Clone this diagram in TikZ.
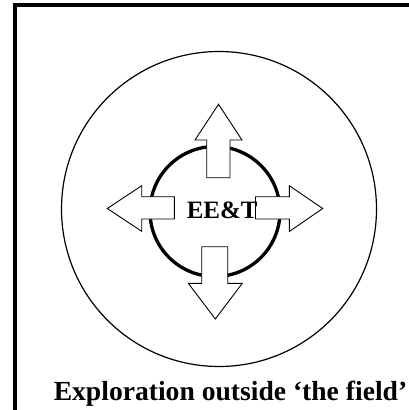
\documentclass[tikz,border=0pt]{standalone}
\usepackage{fontspec}
\setmainfont{Liberation Serif}
\begin{document}
\begin{tikzpicture}[x=1pt,y=-1pt,
  ring/.style={circle,draw,line width=1.2pt,minimum size=315pt,inner sep=0pt},
  core/.style={circle,draw,line width=3.3pt,minimum size=130pt,inner sep=0pt},
  bigarrow/.style={draw,fill=white,line width=0.9pt,line join=miter},
  lbl/.style={inner sep=0pt}]
\useasboundingbox (0,0) rectangle (409,410);
\begin{scope}
\clip (0,0) rectangle (409,410);
\draw[line width=4pt,line join=miter] (15.3,420) -- (15.3,5.3) -- (420,5.3);
\end{scope}
\node[ring] (outer) at (219,209) {};
\node[core] (inner) at (215,211.5) {};
% up arrow
\draw[bigarrow] (206.7,177.7) -- (206.7,140) -- (195,140) -- (218.5,104.3) -- (242,140) -- (230,140) -- (230,177.7) -- cycle;
% down arrow
\draw[bigarrow] (201.7,246.7) -- (201.7,283.3) -- (188.3,283.3) -- (215.3,319) -- (242.3,283.3) -- (227.7,283.3) -- (227.7,246.7) -- cycle;
% left arrow
\draw[bigarrow] (174.3,196.7) -- (141.7,196.7) -- (141.7,185.7) -- (107.3,208.5) -- (141.7,231.3) -- (141.7,219) -- (174.3,219) -- cycle;
% right arrow
\draw[bigarrow] (255.5,196.7) -- (289.3,196.7) -- (289.3,185.7) -- (322.7,208.5) -- (289.3,231.5) -- (289.3,219) -- (255.5,219) -- cycle;
\node[lbl,font=\bfseries\fontsize{25}{28}\selectfont,anchor=base] (core label) at (222.2,218.8) {EE\&T};
\node[lbl,font=\bfseries\fontsize{27.6}{30}\selectfont,anchor=base] (outer label) at (230.5,400) {Exploration outside ‘the field’};
\end{tikzpicture}
\end{document}
